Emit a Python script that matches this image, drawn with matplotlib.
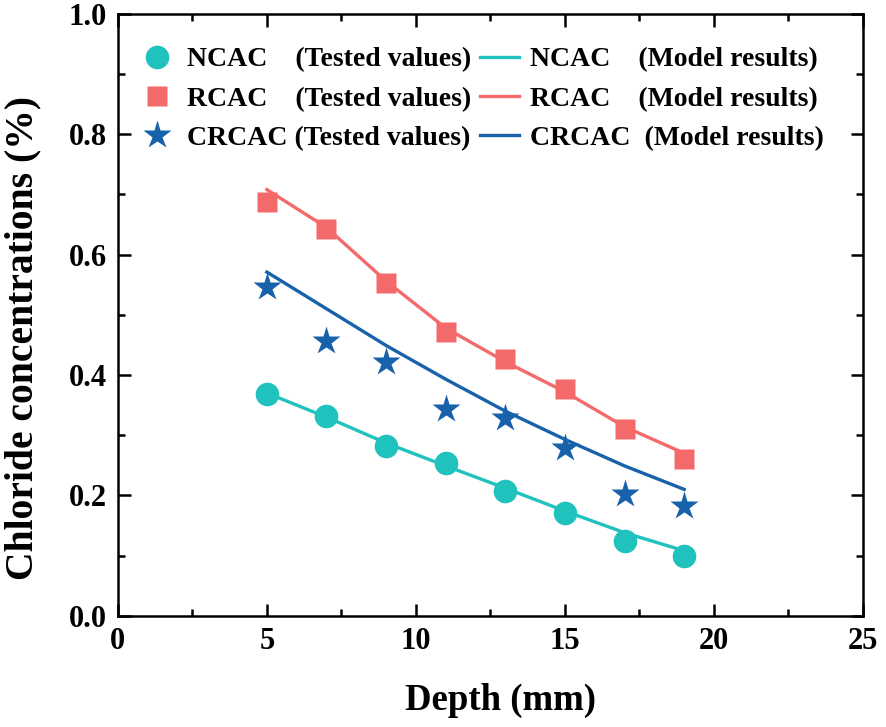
import numpy as np
import matplotlib
matplotlib.use('Agg')
import matplotlib.pyplot as plt
from matplotlib.ticker import MultipleLocator

# Depth (mm)
depth = [5, 7, 9, 11, 13, 15, 17, 19]

# Tested values
ncac_test = [0.368, 0.332, 0.282, 0.253, 0.207, 0.170, 0.124, 0.099]
rcac_test = [0.688, 0.643, 0.552, 0.472, 0.427, 0.377, 0.311, 0.261]
crcac_test = [0.546, 0.457, 0.421, 0.343, 0.329, 0.279, 0.203, 0.182]

# Model results
ncac_model = [0.370, 0.330, 0.287, 0.249, 0.212, 0.174, 0.138, 0.108]
rcac_model = [0.708, 0.645, 0.556, 0.478, 0.422, 0.372, 0.314, 0.270]
crcac_model = [0.571, 0.510, 0.449, 0.393, 0.340, 0.293, 0.249, 0.210]

c_n = '#1fc2bd'
c_r = '#f46a6a'
c_c = '#1862ab'

plt.rcParams['font.family'] = 'Liberation Serif'
plt.rcParams['font.weight'] = 'bold'

fig = plt.figure(figsize=(8.86, 7.27), dpi=100)
ax = fig.add_axes([0.133, 0.153, 0.841, 0.828])

# tested values (markers)
h1, = ax.plot(depth, ncac_test, 'o', c=c_n, ms=17, mec='none', zorder=3)
h2, = ax.plot(depth, rcac_test, 's', c=c_r, ms=15, mec='none', zorder=3)
h3, = ax.plot(depth, crcac_test, '*', c=c_c, ms=21, mec='none', zorder=3)

# model results (lines)
l1, = ax.plot(depth, ncac_model, '-', c=c_n, lw=2.4, zorder=2)
l2, = ax.plot(depth, rcac_model, '-', c=c_r, lw=2.4, zorder=2)
l3, = ax.plot(depth, crcac_model, '-', c=c_c, lw=2.4, zorder=2)

ax.set_xlim(0, 25)
ax.set_ylim(0, 1.0)
ax.xaxis.set_major_locator(MultipleLocator(5))
ax.xaxis.set_minor_locator(MultipleLocator(2.5))
ax.yaxis.set_major_locator(MultipleLocator(0.2))
ax.yaxis.set_minor_locator(MultipleLocator(0.1))
ax.yaxis.set_major_formatter(matplotlib.ticker.FormatStrFormatter('%.1f'))

ax.tick_params(which='both', direction='in', top=True, right=True, width=1.8)
ax.tick_params(which='major', length=9, labelsize=22, pad=8)
ax.tick_params(which='minor', length=5)
for s in ax.spines.values():
    s.set_linewidth(1.8)

ax.set_xlabel('Depth (mm)', fontsize=26.5, fontweight='bold')
ax.xaxis.set_label_coords(0.514, -0.112)
ax.set_ylabel('Chloride concentrations (%)', fontsize=28.5, fontweight='bold')
ax.yaxis.set_label_coords(-0.102, 0.461)

handles = [h1, h2, h3, l1, l2, l3]
labels = ['NCAC    (Tested values)', 'RCAC    (Tested values)', 'CRCAC (Tested values)',
          'NCAC    (Model results)', 'RCAC    (Model results)', 'CRCAC  (Model results)']
leg = ax.legend(handles, labels, ncol=2, loc='upper left', bbox_to_anchor=(0.0, 0.977),
                frameon=False, handlelength=1.4, handletextpad=0.4,
                columnspacing=0.3, labelspacing=0.5, borderaxespad=0.3,
                prop={'family': 'Liberation Serif', 'weight': 'bold', 'size': 20})

fig.savefig('out.png', dpi=100)
